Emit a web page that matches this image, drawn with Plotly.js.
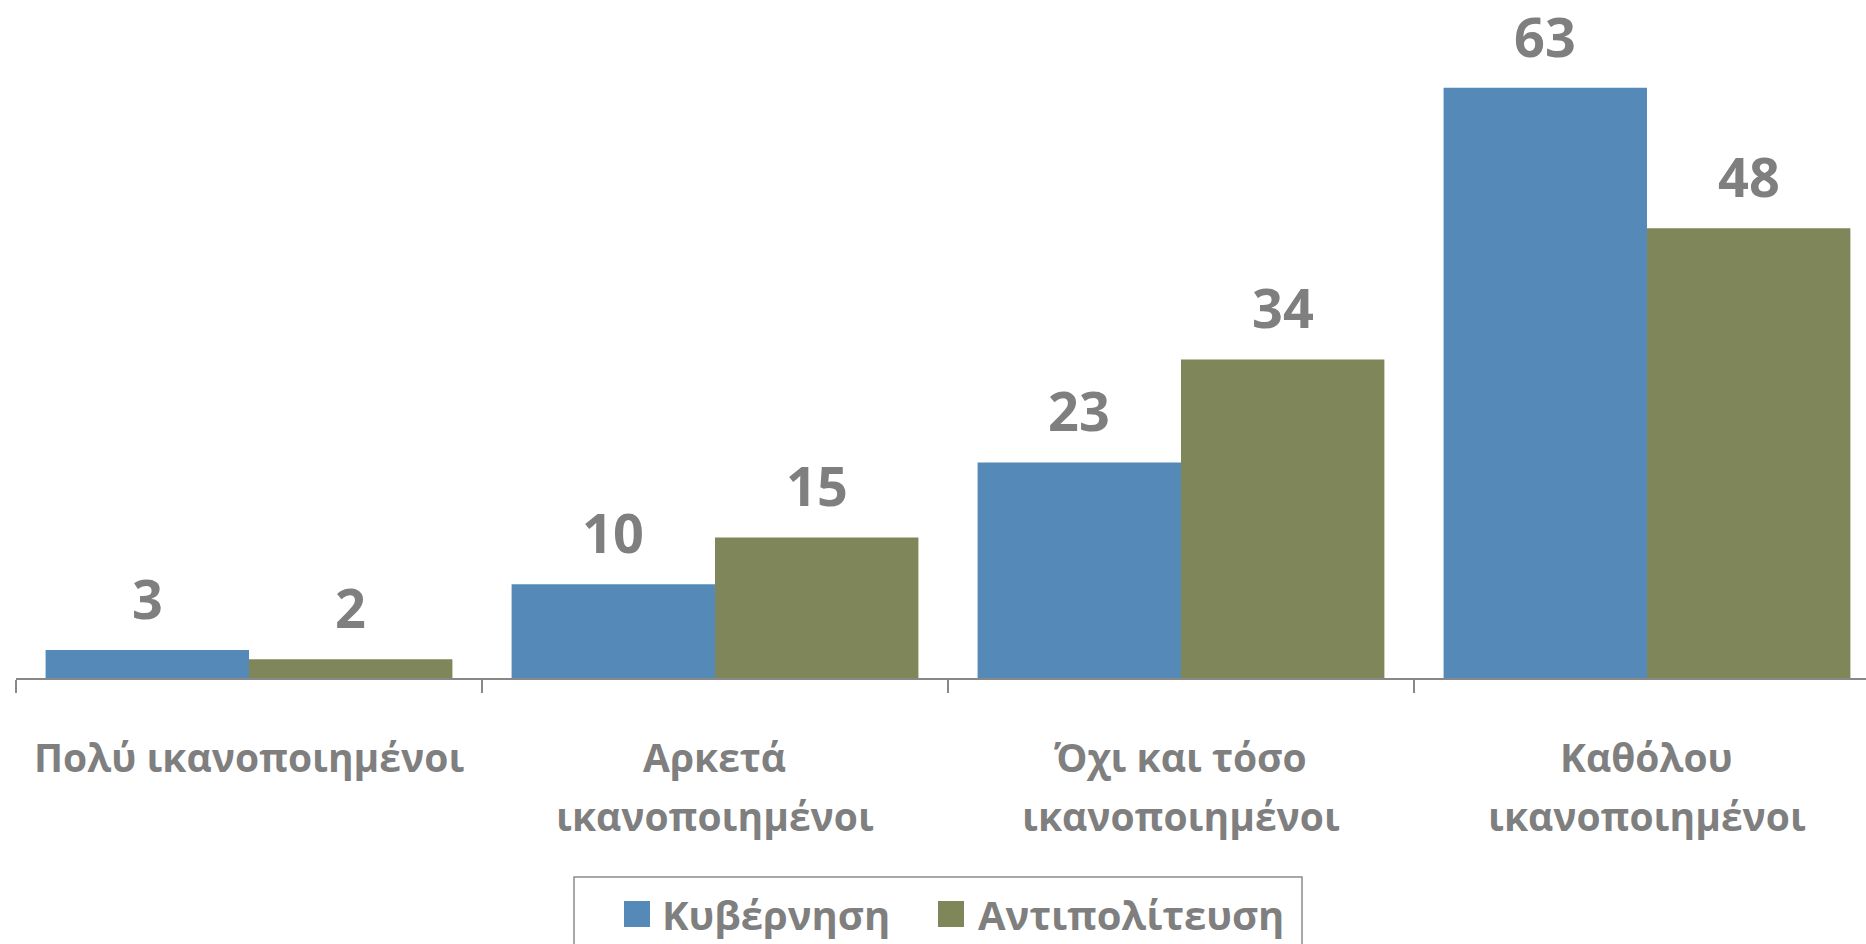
<!DOCTYPE html>
<html>
<head>
<meta charset="utf-8">
<script src="https://cdn.plot.ly/plotly-3.0.1.min.js"></script>
<style>html,body{margin:0;padding:0;background:#fff;}#chart{width:1866px;height:944px;}</style>
</head>
<body>
<div id="chart"></div>
<script>
const categories = ["Πολύ ικανοποιημένοι", "Αρκετά<br>ικανοποιημένοι", "Όχι και τόσο<br>ικανοποιημένοι", "Καθόλου<br>ικανοποιημένοι"];
const seriesNames = ["Κυβέρνηση", "Αντιπολίτευση"];
const government = [3, 10, 23, 63];
const opposition = [2, 15, 34, 48];

const colors = ["#558AB8", "#7F865A"];
const textGray = "#7F7F7F";
const FONT = "Open Sans, sans-serif";
const bargap = 0.127;

const seriesValues = [government, opposition];
const traces = seriesValues.map((vals, s) => ({
  type: "bar",
  name: seriesNames[s],
  x: categories,
  y: vals,
  marker: { color: colors[s] },
  hoverinfo: "none",
  showlegend: false
}));

const barW = (1 - bargap) / 2;
const annotations = [];
// value labels
seriesValues.forEach((vals, s) => {
  vals.forEach((v, i) => {
    annotations.push({
      x: i + (s === 0 ? -barW / 2 : barW / 2),
      y: v,
      xref: "x", yref: "y",
      text: String(v),
      showarrow: false,
      yanchor: "bottom",
      yshift: 13,
      font: { family: FONT, size: 54, color: textGray, weight: 700 }
    });
  });
});
// category labels (each line placed separately for wider line spacing)
categories.forEach((c, i) => {
  c.split("<br>").forEach((line, k) => {
    annotations.push({
      x: i, y: 0, xref: "x", yref: "paper",
      text: line,
      showarrow: false,
      yanchor: "middle",
      yshift: -78 - k * 59,
      font: { family: FONT, size: 39, color: textGray, weight: 700 }
    });
  });
});

// legend (drawn in paper coordinates; plot area starts at 16px, width 1850, height 678)
const px = v => (v - 16) / 1850;
const py = v => (678 - v) / 678;
const shapes = [
  { type: "rect", xref: "paper", yref: "paper", x0: px(574), x1: px(1302), y0: py(877), y1: py(990),
    line: { color: "#8C8C8C", width: 1.5 }, fillcolor: "rgba(0,0,0,0)" }
];
const legendSquares = [624, 938];
const legendTexts = [660, 976];
seriesNames.forEach((n, s) => {
  shapes.push({ type: "rect", xref: "paper", yref: "paper",
    x0: px(legendSquares[s]), x1: px(legendSquares[s] + 26), y0: py(901), y1: py(927),
    line: { width: 0 }, fillcolor: colors[s] });
  annotations.push({
    x: px(legendTexts[s]), y: py(914), xref: "paper", yref: "paper",
    xanchor: "left", yanchor: "middle",
    text: n, showarrow: false,
    font: { family: FONT, size: 40, color: textGray, weight: 700 }
  });
});

const layout = {
  width: 1866,
  height: 944,
  margin: { l: 16, r: 0, t: 0, b: 266 },
  paper_bgcolor: "#fff",
  plot_bgcolor: "#fff",
  barmode: "group",
  bargap: bargap,
  bargroupgap: 0,
  showlegend: false,
  xaxis: {
    type: "category",
    range: [-0.5, 3.47],
    showline: true,
    linecolor: "#888888",
    linewidth: 2,
    ticks: "outside",
    tickson: "boundaries",
    ticklen: 13,
    tickwidth: 2,
    tickcolor: "#888888",
    showgrid: false,
    showticklabels: false,
    fixedrange: true
  },
  yaxis: {
    range: [0, 72.36],
    visible: false,
    showgrid: false,
    zeroline: false,
    fixedrange: true
  },
  shapes: shapes,
  annotations: annotations
};

Plotly.newPlot("chart", traces, layout, { displayModeBar: false, staticPlot: true });
</script>
</body>
</html>
